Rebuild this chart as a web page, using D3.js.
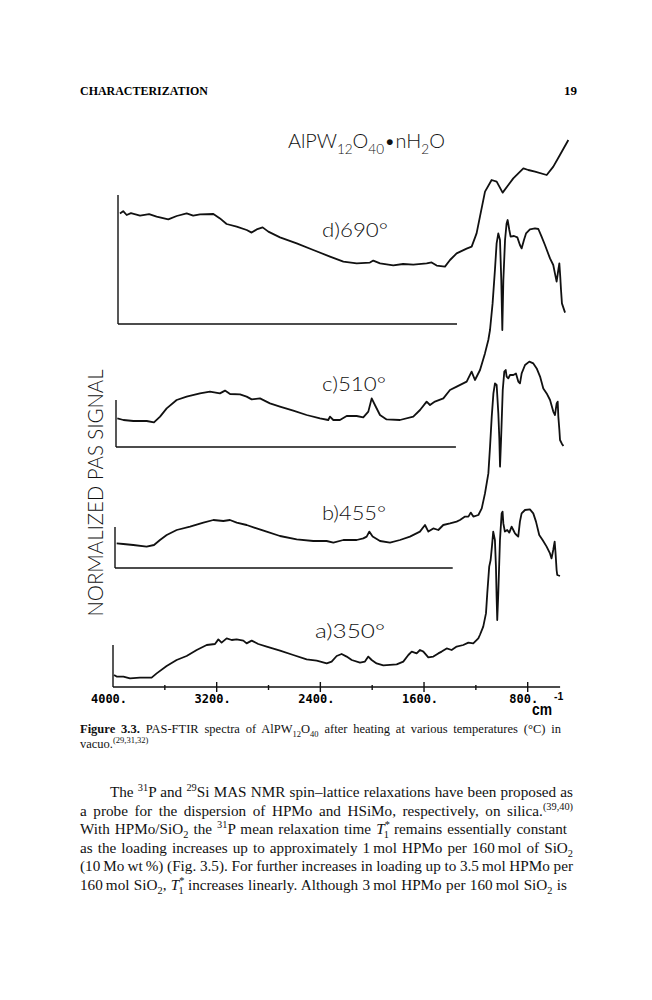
<!DOCTYPE html>
<html>
<head>
<meta charset="utf-8">
<script src="https://cdn.jsdelivr.net/npm/d3@7"></script>
<style>
  body { margin: 0; background: #fff; }
</style>
</head>
<body>
<div id="page"></div>
<script>
// x axis ticks (wavenumber, cm-1)
var majorTicks = [4000, 3200, 2400, 1600, 800];
var tickLabels = ["4000.", "3200.", "2400.", "1600.", "800."];
var minorTicks = [3600, 2800, 2000, 1200];

var spectrumNames = ["d", "c", "b", "a"];
var temperatures = ["690", "510", "455", "350"];

// spectra: [wavenumber, signal above own baseline (a.u.)]
var spectrumD = [
  [3985,55.3],[3960,56.4],[3933,54.5],[3900,55.4],[3830,54.2],[3760,54.9],[3702,53.7],[3612,52.3],
  [3547,54],[3470,55.3],[3420,54.2],[3367,54.8],[3264,55],[3213,52.8],[3162,50],[3084,48.7],
  [3007,47],[2969,45.7],[2930,47.3],[2884,48.3],[2840,46.2],[2750,43.3],[2621,40.3],[2493,37],
  [2364,33.7],[2261,31.2],[2158,30.3],[2056,30.7],[2030,31.7],[1978,30.3],[1876,29.3],[1800,30],
  [1721,29.7],[1618,30.3],[1580,30.8],[1541,29.2],[1477,28.7],[1438,32],[1387,35.3],[1310,37.7],
  [1271,38.7],[1233,45.3],[1207,53.7],[1168,66.2],[1117,72],[1078,71.2],[1032,65.7],[988,69.5],
  [950,72.8],[872,77.8],[834,77],[782,76.2],[692,74.5],[641,78.7],[590,84.5],[525,92]
];

var spectrumC = [
  [3990,14.3],[3943,13.5],[3866,13],[3763,13],[3707,12.3],[3660,15.2],[3609,19.3],[3532,23.5],
  [3455,25.2],[3352,26.8],[3275,27.7],[3198,26.8],[3159,28.2],[3120,26.5],[3043,26.3],[2992,25.2],
  [2953,23.8],[2889,24.3],[2812,21.8],[2735,20.2],[2632,18.2],[2529,16],[2426,14.3],[2362,13.5],
  [2349,15.2],[2323,13.5],[2272,13.5],[2220,15.5],[2143,15.5],[2092,14.8],[2053,17.7],[2027,24.3],
  [2002,21],[1963,16],[1912,13.8],[1809,13.5],[1706,15.2],[1654,18.5],[1603,22.7],[1577,21],
  [1539,22.7],[1474,24.3],[1423,28.5],[1371,30.2],[1294,32.7],[1256,37.7],[1230,33.5],[1191,38.5],
  [1153,46.8],[1127,53.5],[1114,58.5],[1094,71.8],[1076,88.5],[1063,101.8],[1050,106.8],[1037,103.5],
  [1027,83.5],[1019,58.5],[1011,83.5],[998,103.5],[986,111.8],[978,113.5],[965,108.5],[955,105.2],
  [929,105.5],[903,104.8],[883,101],[870,99.3],[852,103.5],[836,106.8],[806,108.8],[767,109.3],
  [741,109],[716,105.2],[690,101],[651,94.3],[626,91],[613,86.8],[600,82.7],[587,88.5],
  [579,91.8],[572,85.2],[566,78.5],[559,71.8],[535,67.2]
];

var spectrumB = [
  [3987,12.3],[3936,12],[3859,11.5],[3756,10.7],[3699,11.5],[3653,14],[3601,16.5],[3524,19],
  [3421,20.7],[3318,22.7],[3241,24],[3164,23.5],[3113,24],[3061,22.7],[2984,21.5],[2907,19.8],
  [2830,18.2],[2727,16],[2598,14.3],[2470,13.5],[2367,13.5],[2315,12.7],[2238,14],[2135,14],
  [2084,14.8],[2058,15.7],[2038,18.2],[2012,15.7],[1955,13.5],[1878,12.7],[1801,14],[1724,15.7],
  [1647,18.2],[1608,21.5],[1582,18.2],[1544,19.8],[1505,19],[1467,21.5],[1415,22.3],[1364,23.2],
  [1338,24],[1299,25.7],[1273,25.7],[1255,27.7],[1235,25.7],[1196,26.5],[1170,29.8],[1145,37.3],
  [1119,47.3],[1106,60.7],[1093,75.7],[1080,87.3],[1068,92.3],[1055,91.5],[1042,77.3],[1034,64],
  [1029,50.7],[1021,64],[1008,89],[996,98.2],[985,99],[978,95.7],[965,94.8],[952,96.5],
  [926,96.5],[906,97.3],[888,93.2],[875,92.3],[862,97.3],[836,101.5],[803,103.2],[772,102.3],
  [746,99.8],[720,95.7],[695,89.8],[669,87.3],[643,84],[618,78.2],[605,76.5],[592,82.3],
  [584,83.2],[579,75.7],[571,69],[566,64],[553,62.3],[540,61]
];

var spectrumA = [
  [3992,6],[3972,5.2],[3920,5.2],[3869,4.3],[3792,4.7],[3702,4.7],[3663,6.8],[3586,10.5],
  [3509,13.5],[3432,15.5],[3354,18.5],[3277,21],[3213,21.5],[3187,23.8],[3162,22.2],[3123,24.3],
  [3084,23.5],[3046,23.8],[2994,23.2],[2969,21.8],[2930,23.2],[2879,21.5],[2814,20.2],[2711,18.2],
  [2609,16],[2506,13.8],[2428,13.2],[2351,11.8],[2313,12.7],[2274,15.5],[2236,16.5],[2197,15.2],
  [2158,13.5],[2094,12.2],[2056,12.7],[2030,15.2],[2004,13.5],[1966,11.8],[1914,10.8],[1811,11.3],
  [1760,12.7],[1721,16],[1695,17.7],[1657,16.8],[1631,18.5],[1605,17.7],[1567,14.8],[1528,15.2],
  [1490,16.8],[1464,17.7],[1425,19.3],[1387,18.5],[1348,20.2],[1297,21],[1258,22.2],[1220,21.8],
  [1181,24.3],[1169,26],[1143,30.2],[1122,36.8],[1112,46.8],[1097,60.2],[1086,63.5],[1076,70.2],
  [1066,77.7],[1053,73.5],[1045,60.2],[1040,45.2],[1035,33.5],[1027,46.8],[1014,73.5],[1001,86.8],
  [994,87.7],[988,81.8],[976,77.7],[958,78.5],[942,77.2],[924,80.2],[911,78.5],[898,76.8],
  [886,76],[873,75.2],[860,82.7],[847,86.8],[821,88.5],[783,88.8],[757,86.8],[736,82.7],
  [711,76],[685,73.5],[654,70.2],[628,66.8],[616,64.3],[603,68.5],[592,72.7],[585,66.8],
  [577,58.5],[572,56],[551,55.5]
];

// where each stacked trace sits on the page
var panels = [
  { data: spectrumD, base: 324, shift: 5, stub: 64.5, end: 1384, label: [322, 236.5, 66] },
  { data: spectrumC, base: 447, shift: 3, stub: 23.5, end: 1377, label: [322, 390.5, 64] },
  { data: spectrumB, base: 568, shift: 2, stub: 20.5, end: 1394, label: [322, 520, 64] },
  { data: spectrumA, base: 687, shift: 0, stub: 21,   end: 550,  label: [315, 638, 70] }
];

var W = 652, H = 1000;
var serif = "'Liberation Serif', 'Times New Roman', serif";
var geo = "Lato, 'Noto Sans', sans-serif";

var svg = d3.select("#page").append("svg")
  .attr("width", W)
  .attr("height", H)
  .attr("viewBox", "0 0 " + W + " " + H);

svg.append("rect").attr("width", W).attr("height", H).attr("fill", "#fff");

// shared wavenumber scale (reversed, like an IR plot)
var x = d3.scaleLinear().domain([4000, 800]).range([113, 527.7]);

// small helper for text with sub/superscripts
function richText(sel, parts, size) {
  sel.selectAll("tspan").remove();
  var shift = 0;
  parts.forEach(function(p) {
    var t = p[0], kind = p[1] || "", dx = p[2] || 0;
    var small = kind.indexOf("sub") >= 0 || kind.indexOf("sup") >= 0;
    var target = kind.indexOf("sub") >= 0 ? 0.28 * size : kind.indexOf("sup") >= 0 ? -0.38 * size : 0;
    var ts = sel.append("tspan")
      .attr("dy", target - shift)
      .text(t);
    if (dx) ts.attr("dx", dx);
    if (small) ts.attr("font-size", size * 0.68);
    if (kind.indexOf("i") === 0) ts.attr("font-style", "italic");
    if (kind === "b") ts.attr("font-weight", "bold");
    shift = target;
  });
  return sel;
}

function justify(sel, parts, width) {
  var natural = sel.node().getComputedTextLength();
  var spaces = parts.map(function(p) { return p[0]; }).join("").split(" ").length - 1;
  if (spaces > 0) sel.attr("word-spacing", (width - natural) / spaces);
}

// page header
svg.append("text")
  .attr("x", 80).attr("y", 95)
  .attr("font-family", serif).attr("font-weight", "bold").attr("font-size", 12.5)
  .attr("textLength", 128).attr("lengthAdjust", "spacingAndGlyphs")
  .text("CHARACTERIZATION");
svg.append("text")
  .attr("x", 577).attr("y", 95).attr("text-anchor", "end")
  .attr("font-family", serif).attr("font-weight", "bold").attr("font-size", 13)
  .text("19");

// traces
var line = d3.line()
  .x(function(d) { return x(d[0]); })
  .y(function(d) { return d[1]; });

panels.forEach(function(p, i) {
  var y = d3.scaleLinear().domain([0, 100]).range([p.base, p.base - 200]);
  var g = svg.append("g").attr("transform", "translate(" + p.shift + ",0)");

  // own baseline and left stub
  if (i < panels.length - 1) {
    g.append("line")
      .attr("x1", x(4000)).attr("x2", x(p.end))
      .attr("y1", y(0)).attr("y2", y(0))
      .attr("stroke", "#111").attr("stroke-width", 1.4);
  }
  g.append("line")
    .attr("x1", x(4000)).attr("x2", x(4000))
    .attr("y1", y(0)).attr("y2", y(p.stub))
    .attr("stroke", "#111").attr("stroke-width", 1.4);

  g.append("path")
    .datum(p.data.map(function(d) { return [d[0], y(d[1])]; }))
    .attr("d", line)
    .attr("fill", "none")
    .attr("stroke", "#111")
    .attr("stroke-width", 1.8)
    .attr("stroke-linejoin", "round");

  svg.append("text")
    .attr("x", p.label[0]).attr("y", p.label[1])
    .attr("font-family", geo).attr("font-weight", 300).attr("font-size", 19)
    .attr("textLength", p.label[2]).attr("lengthAdjust", "spacingAndGlyphs")
    .attr("fill", "#111")
    .text(spectrumNames[i] + ")" + temperatures[i] + "°");
});

// x axis at the bottom spectrum's baseline
var axisY = panels[3].base;
var xAxis = svg.append("g").attr("transform", "translate(0," + axisY + ")");
xAxis.append("line")
  .attr("x1", x(4000)).attr("x2", x(550))
  .attr("stroke", "#111").attr("stroke-width", 1.6);

xAxis.selectAll(".major").data(majorTicks.slice(1)).join("line")
  .attr("class", "major")
  .attr("x1", function(d) { return x(d); }).attr("x2", function(d) { return x(d); })
  .attr("y1", -5).attr("y2", 5)
  .attr("stroke", "#111").attr("stroke-width", 1.4);

xAxis.selectAll(".minor").data(minorTicks).join("line")
  .attr("class", "minor")
  .attr("x1", function(d) { return x(d); }).attr("x2", function(d) { return x(d); })
  .attr("y1", -2).attr("y2", 3)
  .attr("stroke", "#111").attr("stroke-width", 1.4);

xAxis.selectAll(".lbl").data(majorTicks).join("text")
  .attr("class", "lbl")
  .attr("x", function(d) { return x(d) - 4; })
  .attr("y", 15.5)
  .attr("text-anchor", "middle")
  .attr("font-family", "'DejaVu Sans Mono', 'Liberation Mono', monospace")
  .attr("font-weight", "bold").attr("font-size", 12)
  .text(function(d, i) { return tickLabels[i]; });

svg.append("text")
  .attr("x", 532).attr("y", 715)
  .attr("font-family", "'Liberation Sans', Arial, sans-serif")
  .attr("font-weight", "bold").attr("font-size", 16)
  .attr("textLength", 20).attr("lengthAdjust", "spacingAndGlyphs")
  .text("cm");
svg.append("text")
  .attr("x", 554).attr("y", 700)
  .attr("font-family", "'Liberation Sans', Arial, sans-serif")
  .attr("font-weight", "bold").attr("font-size", 10.5)
  .text("-1");

// y axis title
svg.append("text")
  .attr("transform", "translate(103,493) rotate(-90)")
  .attr("text-anchor", "middle")
  .attr("font-family", geo).attr("font-weight", 300).attr("font-size", 22)
  .attr("textLength", 247).attr("lengthAdjust", "spacingAndGlyphs")
  .attr("fill", "#111")
  .text("NORMALIZED PAS SIGNAL");

// chart title, sized so it spans the same width as in the figure
var titleParts = [["AlPW"], ["12", "sub"], ["O"], ["40", "sub"], ["•nH"], ["2", "sub"], ["O"]];
var title = svg.append("text")
  .attr("x", 288).attr("y", 148)
  .attr("font-family", geo).attr("font-weight", 300)
  .attr("fill", "#111");
var titleSize = 21;
title.attr("font-size", titleSize);
richText(title, titleParts, titleSize);
titleSize = titleSize * 157 / title.node().getComputedTextLength();
title.attr("font-size", titleSize);
richText(title, titleParts, titleSize);

// caption
var captionLines = [
  [["Figure 3.3.", "b"], [" PAS-FTIR spectra of AlPW"], ["12", "sub"], ["O"], ["40", "sub"],
   [" after heating at various temperatures (°C) in"]],
  [["vacuo."], ["(29,31,32)", "sup"]]
];
captionLines.forEach(function(parts, i) {
  var t = svg.append("text")
    .attr("x", 80).attr("y", 733 + i * 15)
    .attr("font-family", serif).attr("font-size", 12.5).attr("fill", "#111");
  richText(t, parts, 12.5);
  if (i === 0) justify(t, parts, 481);
});

// body text
var bodyLines = [
  [["The "], ["31", "sup"], ["P and "], ["29", "sup"], ["Si MAS NMR spin–lattice relaxations have been proposed as"]],
  [["a probe for the dispersion of HPMo and HSiMo, respectively, on silica."], ["(39,40)", "sup"]],
  [["With HPMo/SiO"], ["2", "sub"], [" the "], ["31", "sup"], ["P mean relaxation time "], ["T", "i"],
   ["*", "sup"], ["1", "sub", -6], [" remains essentially constant"]],
  [["as the loading increases up to approximately 1\u2009mol HPMo per 160\u2009mol of SiO"], ["2", "sub"]],
  [["(10\u2009Mo\u2009wt\u2009%) (Fig. 3.5). For further increases in loading up to 3.5\u2009mol HPMo per"]],
  [["160\u2009mol SiO"], ["2", "sub"], [", "], ["T", "i"], ["*", "sup"], ["1", "sub", -6],
   [" increases linearly. Although 3\u2009mol HPMo per 160\u2009mol SiO"], ["2", "sub"], [" is"]]
];
bodyLines.forEach(function(parts, i) {
  var x0 = i === 0 ? 110 : 80;
  var t = svg.append("text")
    .attr("x", x0).attr("y", 797 + i * 18.6)
    .attr("font-family", serif).attr("font-size", 15.2).attr("fill", "#111");
  richText(t, parts, 15.2);
  justify(t, parts, 573 - x0);
});
</script>
</body>
</html>
